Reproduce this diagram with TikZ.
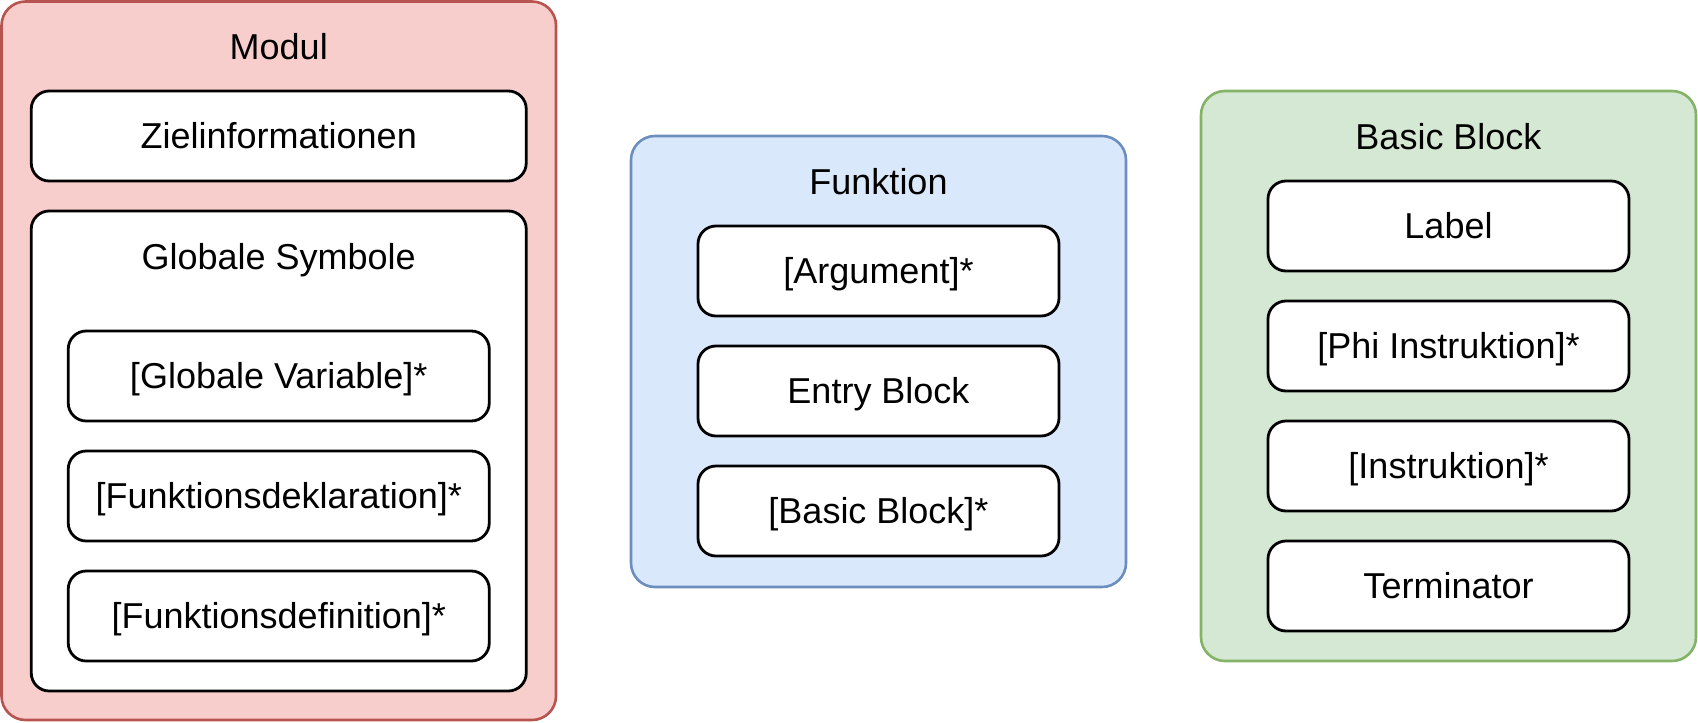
\documentclass[tikz,border=0pt]{standalone}
\usepackage{fontspec}
\setmainfont{Liberation Sans}
\definecolor{redfill}{HTML}{F8CECC}
\definecolor{redline}{HTML}{B85450}
\definecolor{bluefill}{HTML}{DAE8FC}
\definecolor{blueline}{HTML}{6C8EBF}
\definecolor{greenfill}{HTML}{D5E8D4}
\definecolor{greenline}{HTML}{82B366}
\tikzset{
  container/.style={draw, line width=2.6pt, rounded corners=24pt, inner sep=0pt, outer sep=0pt},
  item/.style={draw=black, fill=white, line width=2.8pt, rounded corners=18pt, inner sep=0pt, outer sep=0pt,
    minimum height=90pt, font=\fontsize{36pt}{43pt}\selectfont, text height=25.8pt, text depth=0pt},
  title/.style={inner sep=0pt, font=\fontsize{36pt}{43pt}\selectfont, text height=25.8pt, text depth=0pt}
}
\begin{document}
\begin{tikzpicture}[x=1pt,y=-1pt]
\useasboundingbox (0,0) rectangle (1698,723);
% Modul
\node[container, draw=redline, fill=redfill, minimum width=554.5pt, minimum height=718.5pt] (modul) at (278.75,360.75) {};
\node[title] (modultitle) at (278.75,46.5) {Modul};
\node[item, minimum width=495pt] (ziel) at (278.75,136) {Zielinformationen};
\node[item, minimum width=495pt, minimum height=480pt] (globsym) at (278.75,451) {};
\node[title] (globsymtitle) at (278.75,257) {Globale Symbole};
\node[item, minimum width=421pt] (globvar) at (278.75,376) {[Globale Variable]*};
\node[item, minimum width=421pt] (fdekl) at (278.75,496) {[Funktionsdeklaration]*};
\node[item, minimum width=421pt] (fdef) at (278.75,616) {[Funktionsdefinition]*};
% Funktion
\node[container, draw=blueline, fill=bluefill, minimum width=495pt, minimum height=451pt] (funktion) at (878.5,361.5) {};
\node[title] (funktiontitle) at (878.5,182) {Funktion};
\node[item, minimum width=361pt] (arg) at (878.5,271) {[Argument]*};
\node[item, minimum width=361pt] (entry) at (878.5,391) {Entry Block};
\node[item, minimum width=361pt] (bbs) at (878.5,511) {[Basic Block]*};
% Basic Block
\node[container, draw=greenline, fill=greenfill, minimum width=495pt, minimum height=570pt] (bb) at (1448.5,376) {};
\node[title] (bbtitle) at (1448.5,136.5) {Basic Block};
\node[item, minimum width=361pt] (label) at (1448.5,226) {Label};
\node[item, minimum width=361pt] (phi) at (1448.5,346) {[Phi Instruktion]*};
\node[item, minimum width=361pt] (instr) at (1448.5,466) {[Instruktion]*};
\node[item, minimum width=361pt] (term) at (1448.5,586) {Terminator};
\end{tikzpicture}
\end{document}
